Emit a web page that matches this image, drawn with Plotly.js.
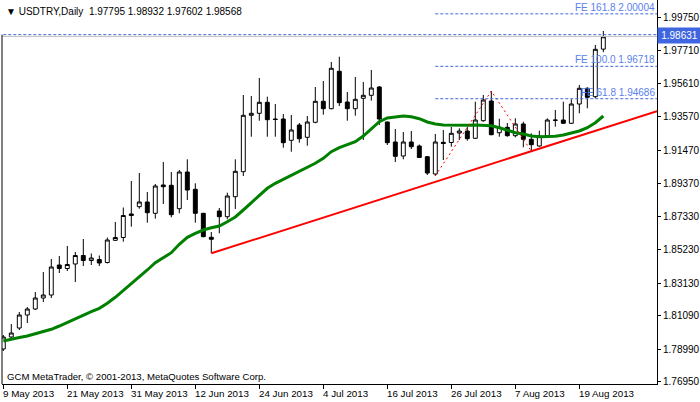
<!DOCTYPE html>
<html><head><meta charset="utf-8">
<script src="https://cdn.plot.ly/plotly-3.0.1.min.js"></script>
<style>html,body{margin:0;padding:0;background:#fff;}#chart{width:700px;height:402px;}</style>
</head><body><div id="chart"></div>
<script>
// USDTRY Daily OHLC, 9 May 2013 .. 22 Aug 2013 (trading days)
const opens = [1.79005,1.79757,1.80321,1.81135,1.81511,1.82200,1.82388,1.84268,1.84049,1.84331,
1.84863,1.84550,1.84613,1.84425,1.85816,1.85991,1.87464,1.87921,1.88215,1.87507,
1.89281,1.89262,1.87796,1.90095,1.89011,1.87507,1.86004,1.87652,1.87294,1.88547,
1.90114,1.93648,1.93773,1.94462,1.93416,1.93416,1.92081,1.93040,1.92269,1.93209,
1.94525,1.94061,1.96405,1.94481,1.94061,1.94713,1.94901,1.95421,1.93228,1.91975,
1.91098,1.91975,1.91724,1.91054,1.89970,1.91956,1.91944,1.92539,1.92664,1.92207,
1.93309,1.94544,1.92557,1.92896,1.92370,1.93103,1.92144,1.91724,1.92307,1.93353,
1.93353,1.93147,1.94356,1.95340,1.94813,1.97795];
const highs = [1.79882,1.80571,1.81323,1.81636,1.82576,1.83829,1.84644,1.84832,1.85459,1.85083,
1.85897,1.84989,1.84863,1.85991,1.86962,1.87871,1.89531,1.90032,1.88842,1.89343,
1.90722,1.90095,1.90220,1.90891,1.89387,1.87526,1.86336,1.87839,1.88798,1.90891,
1.94920,1.94857,1.95985,1.94813,1.94356,1.93729,1.93667,1.93165,1.93604,1.95421,
1.95797,1.96987,1.97320,1.95108,1.96048,1.95734,1.96486,1.95484,1.93259,1.92789,
1.92601,1.92664,1.91818,1.91098,1.92476,1.92727,1.92915,1.92833,1.92933,1.94500,
1.94920,1.95170,1.93435,1.93165,1.93460,1.93247,1.92520,1.92683,1.93460,1.93980,
1.94500,1.94650,1.95546,1.95402,1.98053,1.98932];
const lows = [1.78880,1.79569,1.80195,1.80634,1.81448,1.81950,1.82200,1.83767,1.83892,1.83203,
1.84205,1.84268,1.84205,1.84362,1.85772,1.85728,1.86668,1.87796,1.86918,1.87169,
1.88090,1.87257,1.87507,1.88341,1.86918,1.86004,1.85001,1.86254,1.87131,1.87777,
1.89845,1.92307,1.93309,1.92307,1.92307,1.91618,1.91367,1.91931,1.91743,1.93147,
1.93685,1.94024,1.94231,1.93309,1.93623,1.92100,1.94563,1.93040,1.91787,1.90722,
1.90891,1.91536,1.90972,1.89907,1.89851,1.90847,1.91680,1.92100,1.92056,1.92163,
1.93247,1.92395,1.92307,1.92307,1.92269,1.91643,1.91399,1.91680,1.92269,1.92933,
1.93121,1.93103,1.93773,1.94086,1.94713,1.97602];
const closes = [1.79757,1.80007,1.81135,1.81511,1.82200,1.82388,1.84143,1.84049,1.84299,1.84863,
1.84550,1.84707,1.84393,1.85835,1.85991,1.87370,1.87370,1.88215,1.87545,1.89218,
1.89174,1.87420,1.90095,1.88967,1.87507,1.86041,1.85878,1.87294,1.88591,1.90139,
1.93648,1.93773,1.94462,1.93372,1.93385,1.91931,1.92727,1.92182,1.93228,1.94525,
1.94061,1.96593,1.94437,1.94061,1.94650,1.94901,1.95358,1.93416,1.91931,1.91079,
1.91975,1.91680,1.91004,1.90032,1.91975,1.91881,1.92520,1.92664,1.92182,1.93353,
1.94606,1.92432,1.92896,1.92370,1.93103,1.92144,1.91806,1.92351,1.93353,1.93335,
1.93147,1.94356,1.95340,1.94776,1.97783,1.98568];
// moving average (green)
const ma = [1.79506,1.79631,1.79725,1.79819,1.79945,1.80101,1.80239,1.80446,1.80678,1.80928,
1.81135,1.81342,1.81555,1.81868,1.82244,1.82658,1.83121,1.83497,1.83955,1.84412,
1.84725,1.85039,1.85565,1.86004,1.86254,1.86461,1.86605,1.86712,1.86981,1.87276,
1.87714,1.88172,1.88673,1.89074,1.89387,1.89638,1.89857,1.90095,1.90390,1.90640,
1.90954,1.91367,1.91618,1.91787,1.91994,1.92351,1.92808,1.93247,1.93479,1.93560,
1.93604,1.93560,1.93435,1.93228,1.93103,1.93040,1.93021,1.93021,1.93021,1.93040,
1.93040,1.92996,1.92871,1.92727,1.92557,1.92476,1.92351,1.92307,1.92307,1.92332,
1.92413,1.92520,1.92664,1.92871,1.93184,1.93604];
// x-axis date labels and the bar they sit on
const dateLabels = ['9 May 2013','21 May 2013','31 May 2013','12 Jun 2013','24 Jun 2013','4 Jul 2013','16 Jul 2013','26 Jul 2013','7 Aug 2013','19 Aug 2013'];
const dateLabelBars = [0,8,16,24,32,40,48,56,64,72];
// y-axis ticks
const yTicks = [1.99750,1.97710,1.95610,1.93570,1.91470,1.89370,1.87330,1.85230,1.83130,1.81090,1.78990,1.76950];
// trend line anchors (ray)
const trendBars = [26,66];
const trendPrices = [1.85001,1.91399];
// fibo expansion zigzag points A,B,C
const zigBars = [54,61,66];
const zigPrices = [1.89851,1.95170,1.91399];
// fibo expansion levels
const feNames = ['161.8','100.0','61.8'];
const feValues = [2.00004,1.96718,1.94686];
const feStartBar = 54;
// current price
const bidPrice = 1.98631;
const hLinePrice = 1.98700;
const headerText = '\u25BC USDTRY,Daily  1.97795 1.98932 1.97602 1.98568';
const footerText = 'GCM MetaTrader, \u00A9 2001-2013, MetaQuotes Software Corp.';

const xMin = -0.1625, xMax = 81.71;
const yMin = 1.76812, yMax = 2.00872;
const idx = opens.map((_, i) => i);
const FONT = 'Liberation Sans, Arial, sans-serif';
const BLUE = '#3f66e0';

const slope = (trendPrices[1]-trendPrices[0])/(trendBars[1]-trendBars[0]);
const trendEnd = trendPrices[0] + slope*(xMax - trendBars[0]);

const traces = [
  {type:'candlestick', x:idx, open:opens, high:highs, low:lows, close:closes,
   increasing:{line:{color:'#000',width:1}, fillcolor:'#ffffff'},
   decreasing:{line:{color:'#000',width:1}, fillcolor:'#000000'},
   whiskerwidth:0, hoverinfo:'skip', showlegend:false},
  {type:'scatter', mode:'lines', x:idx, y:ma, line:{color:'#008000', width:3}, hoverinfo:'skip', showlegend:false},
  {type:'scatter', mode:'lines', x:[trendBars[0], xMax], y:[trendPrices[0], trendEnd], line:{color:'#ff0000', width:2}, hoverinfo:'skip', showlegend:false},
  {type:'scatter', mode:'lines', x:zigBars, y:zigPrices, line:{color:'#ff0000', width:1, dash:'2px,3px'}, hoverinfo:'skip', showlegend:false}
];

const shapes = [
  {type:'line', xref:'paper', yref:'y', x0:0, x1:1, y0:bidPrice-0.0004, y1:bidPrice-0.0004, line:{color:'#c0c0c0', width:1}},
  {type:'line', xref:'paper', yref:'y', x0:0.002, x1:1, y0:hLinePrice, y1:hLinePrice, line:{color:BLUE, width:1, dash:'3px,2px'}},
  {type:'line', xref:'paper', yref:'y', x0:0, x1:0, y0:yMin, y1:hLinePrice, line:{color:'#000', width:1}}
];
feValues.forEach(v => shapes.push({type:'line', xref:'x', yref:'y', x0:feStartBar, x1:xMax, y0:v, y1:v, line:{color:BLUE, width:1, dash:'3px,2px'}}));

const annotations = [
  {xref:'paper', yref:'paper', x:0, y:1, xanchor:'left', yanchor:'top', xshift:2, yshift:-4, text:headerText, showarrow:false, font:{family:FONT, size:10, color:'#000'}},
  {xref:'paper', yref:'paper', x:0, y:(384-376)/384, xanchor:'left', yanchor:'middle', xshift:3, text:footerText, showarrow:false, font:{family:FONT, size:9.6, color:'#000'}},
  {xref:'paper', yref:'y', x:1, y:bidPrice, xanchor:'left', yanchor:'middle', xshift:0, text:bidPrice.toFixed(5), showarrow:false, bgcolor:BLUE, borderpad:2, width:39, font:{family:FONT, size:10, color:'#fff'}}
];
dateLabels.forEach((t, k) => annotations.push({xref:'x', yref:'paper', x:dateLabelBars[k], y:(384-393)/384, xanchor:'left', yanchor:'middle', xshift:-2, text:t, showarrow:false, font:{family:FONT, size:9.8, color:'#000'}}));
feValues.forEach((v, k) => annotations.push({xref:'paper', yref:'y', x:1, y:v, xanchor:'right', yanchor:'bottom', xshift:0, yshift:-1, text:'FE ' + feNames[k] + ' ' + v.toFixed(5), showarrow:false, font:{family:FONT, size:10, color:'#5a80ee'}}));

const layout = {
  width:700, height:402, margin:{l:2, r:43, t:0, b:18},
  paper_bgcolor:'#fff', plot_bgcolor:'#fff', showlegend:false,
  font:{family:FONT, size:10, color:'#000'},
  xaxis:{range:[xMin, xMax], showgrid:false, zeroline:false, showline:true, linecolor:'#000', linewidth:1,
         ticks:'outside', ticklen:4, tickcolor:'#000', tickvals:dateLabelBars, showticklabels:false,
         rangeslider:{visible:false}, fixedrange:true},
  yaxis:{side:'right', range:[yMin, yMax], showgrid:false, zeroline:false, showline:true, linecolor:'#000', linewidth:1,
         ticks:'outside', ticklen:3, tickcolor:'#000', tickvals:yTicks, tickformat:'.5f',
         tickfont:{family:FONT, size:10, color:'#000'}, fixedrange:true},
  shapes:shapes, annotations:annotations, hovermode:false
};
Plotly.newPlot('chart', traces, layout, {staticPlot:true, displayModeBar:false});
</script></body></html>
